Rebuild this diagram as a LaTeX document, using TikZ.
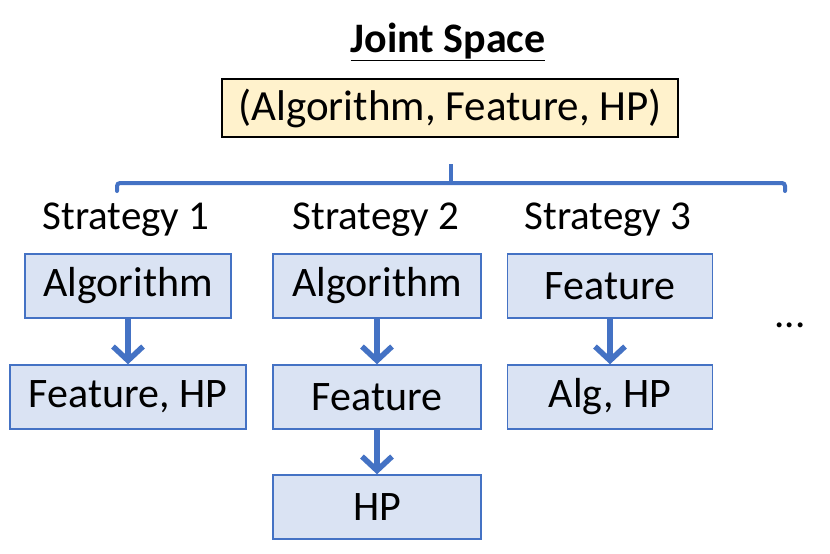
\documentclass[tikz,border=0pt]{standalone}
\usepackage{fontspec}
\setmainfont{Carlito}
\usetikzlibrary{arrows.meta}
\definecolor{obl}{HTML}{4472C4}
\definecolor{boxfill}{HTML}{DAE3F3}
\definecolor{yel}{HTML}{FFF2CC}
\tikzset{
  sbox/.style={draw=obl, line width=1.5pt, fill=boxfill, inner sep=0pt, minimum height=64pt, font=\fontsize{42}{46}\selectfont},
  ybox/.style={draw=black, line width=1.5pt, fill=yel, inner sep=0pt, minimum height=58pt, minimum width=456pt, font=\fontsize{43}{46}\selectfont},
  lbl/.style={inner sep=0pt, font=\fontsize{41}{44}\selectfont},
  flow/.style={draw=obl, line width=5.5pt, -{Straight Barb[length=14pt,width=30pt,line width=5.5pt]}},
}
\begin{document}
\begin{tikzpicture}[x=1pt,y=-1pt]
\useasboundingbox (0,0) rectangle (830,554);
\node[inner sep=0pt, font=\fontsize{42}{46}\selectfont\bfseries] (title) at (448,42) {\underline{Joint Space}};
\node[ybox] (joint) at (450,108) {(Algorithm, Feature, HP)};
\draw[obl, line width=4pt, line cap=round, rounded corners=3pt] (117,191) -- (117,183) -- (785,183) -- (785,191);
\coordinate (brtop) at (451,164);
\coordinate (brmid) at (451,183);
\draw[obl, line width=4pt] (brmid) -- (brtop);
\node[lbl] (s1) at (126,220) {Strategy 1};
\node[lbl] (s2) at (376,220) {Strategy 2};
\node[lbl] (s3) at (608,220) {Strategy 3};
\node[sbox, minimum width=206pt] (a1) at (128,286) {Algorithm};
\node[sbox, minimum width=236pt] (b1) at (128,397) {Feature, HP};
\node[sbox, minimum width=208pt] (a2) at (377,286) {Algorithm};
\node[sbox, minimum width=208pt] (b2) at (377,397) {Feature};
\node[sbox, minimum width=208pt] (c2) at (377,507) {HP};
\node[sbox, minimum width=205pt] (a3) at (610,286) {Feature};
\node[sbox, minimum width=205pt] (b3) at (610,397) {Alg, HP};
\node[lbl] (dots) at (790,325) {...};
\draw[flow] (a1) -- (b1);
\draw[flow] (a2) -- (b2);
\draw[flow] (b2) -- (c2);
\draw[flow] (a3) -- (b3);
\end{tikzpicture}
\end{document}
